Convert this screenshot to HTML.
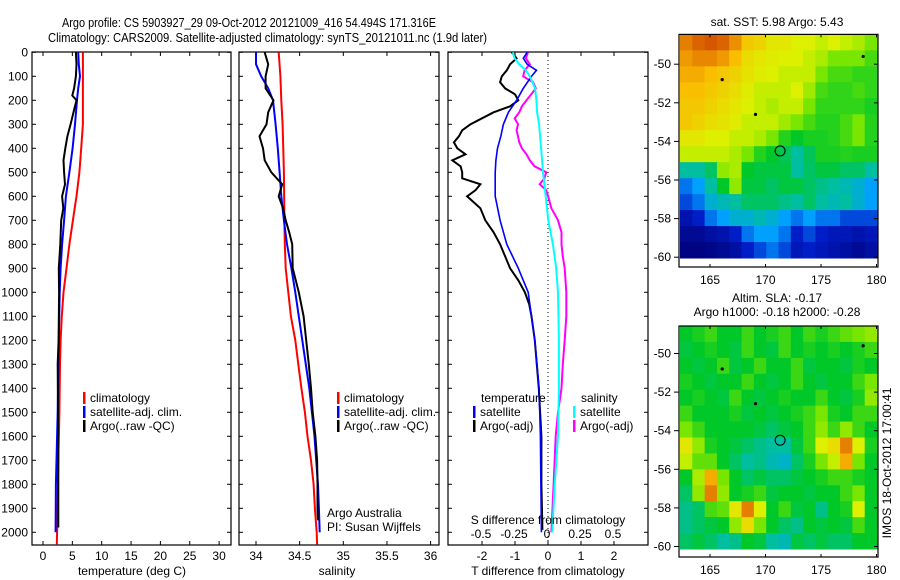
<!DOCTYPE html>
<html><head><meta charset="utf-8">
<style>
html,body{margin:0;padding:0;background:#fff;}
svg{display:block;font-family:"Liberation Sans",sans-serif;}
text{fill:#000;}
</style></head>
<body>
<svg id="chart" width="900" height="580" viewBox="0 0 900 580" xmlns="http://www.w3.org/2000/svg">
<text x="62" y="27" font-size="13" textLength="374" lengthAdjust="spacingAndGlyphs">Argo profile: CS 5903927_29 09-Oct-2012 20121009_416 54.494S 171.316E</text>
<text x="48" y="42" font-size="13" textLength="439" lengthAdjust="spacingAndGlyphs">Climatology: CARS2009. Satellite-adjusted climatology: synTS_20121011.nc (1.9d later)</text>
<g id="layer"></g>
</svg>
<script>
// ---------- data ----------
const depthTicks = [0,100,200,300,400,500,600,700,800,900,1000,1100,1200,1300,1400,1500,1600,1700,1800,1900,2000];
const tempTicks = [0,5,10,15,20,25,30];
const salTicks = [34,34.5,35,35.5,36];
const salTickLabels = ["34","34.5","35","35.5","36"];
const tdiffTicks = [-2,-1,0,1,2];
const sdiffTicks = [-0.5,-0.25,0,0.25,0.5];
const sdiffTickLabels = ["-0.5","-0.25","0","0.25","0.5"];

const tClimDepth = [0,100,200,300,400,500,600,700,800,900,1000,1100,1200,1300,1500,1700,2000,2050];
const tClim =      [6.8,6.8,6.8,6.8,6.5,6.2,5.7,5.1,4.5,4.0,3.5,3.2,3.0,2.9,2.8,2.6,2.4,2.35];
const tSatDepth = [0,50,100,150,200,300,400,500,600,700,800,900,1000,1200,1500,1800,2000];
const tSat =      [6.0,6.1,6.3,6.0,5.8,5.45,5.05,4.5,3.9,3.6,3.25,3.0,2.85,2.7,2.5,2.2,2.15];
const tArgoDepth = [0,50,100,150,180,200,250,300,350,400,450,500,550,600,650,700,800,900,1000,1200,1300,1500,1700,1980];
const tArgo =      [5.6,5.7,5.6,5.3,5.0,5.7,5.2,4.7,4.15,3.8,3.5,3.6,3.75,3.25,3.45,3.1,2.95,2.7,2.75,2.65,2.5,2.55,2.6,2.6];

const sClimDepth = [0,100,200,300,500,700,800,900,1000,1100,1200,1300,1400,1500,1600,1700,1800,1900,2000,2050];
const sClim =      [34.26,34.28,34.29,34.305,34.32,34.325,34.33,34.34,34.37,34.40,34.45,34.485,34.52,34.56,34.59,34.63,34.66,34.675,34.695,34.70];
const sSatDepth = [0,50,100,150,200,250,300,400,500,600,700,800,900,1000,1100,1200,1300,1400,1500,1600,1700,1800,1900,2000];
const sSat =      [34.0,34.0,34.06,34.14,34.195,34.21,34.225,34.25,34.27,34.29,34.32,34.355,34.405,34.45,34.49,34.53,34.57,34.61,34.64,34.67,34.69,34.71,34.72,34.73];
const sArgoDepth = [0,50,100,150,200,250,300,350,400,450,500,550,600,650,700,750,800,900,1000,1100,1200,1300,1400,1500,1600,1700,1800,1900,1950];
const sArgo =      [34.1,34.14,34.11,34.11,34.2,34.14,34.12,34.04,34.08,34.1,34.175,34.3,34.26,34.31,34.34,34.38,34.415,34.42,34.49,34.545,34.575,34.605,34.63,34.65,34.68,34.70,34.705,34.705,34.71];

const dtSatDepth = [0,25,50,75,100,150,200,250,300,350,400,450,500,600,700,800,900,1000,1200,1400,1600,2000];
const dtSat =      [-0.63,-0.75,-0.63,-0.35,-0.5,-0.75,-0.95,-1.2,-1.35,-1.43,-1.53,-1.58,-1.6,-1.6,-1.45,-1.25,-0.9,-0.6,-0.4,-0.27,-0.23,-0.2];
const dtArgoDepth = [0,25,50,75,100,125,150,175,200,225,250,275,300,325,350,375,400,425,450,475,500,525,550,575,600,650,700,750,800,850,900,950,1000,1050,1100,1200,1400,1600,1800,1990];
const dtArgo =      [-1.1,-0.95,-1.15,-1.25,-1.4,-1.45,-1.3,-1.0,-0.9,-1.15,-1.65,-2.0,-2.35,-2.6,-2.7,-2.85,-2.75,-2.5,-2.9,-2.65,-2.6,-2.6,-2.05,-2.2,-2.45,-2.05,-1.9,-1.65,-1.45,-1.3,-1.15,-0.9,-0.7,-0.57,-0.5,-0.4,-0.28,-0.2,-0.2,-0.17];
const dsSatDepth = [0,25,50,75,100,150,200,250,300,400,500,600,700,800,900,1000,1200,1400,1600,1800,2000];
const dsSat =      [-0.26,-0.245,-0.21,-0.16,-0.13,-0.09,-0.08,-0.075,-0.06,-0.045,-0.03,-0.01,0.01,0.045,0.07,0.083,0.09,0.09,0.083,0.058,0.04];
const dsArgoDepth = [0,25,50,75,100,125,150,175,200,225,250,275,300,325,350,375,400,425,450,475,500,525,550,575,600,650,700,750,800,850,900,950,1000,1100,1200,1300,1400,1500,1600,1800,2000];
const dsArgo =      [-0.145,-0.16,-0.13,-0.17,-0.18,-0.105,-0.085,-0.12,-0.155,-0.19,-0.21,-0.245,-0.22,-0.23,-0.22,-0.21,-0.19,-0.155,-0.13,-0.095,-0.005,-0.02,-0.055,-0.005,0.008,0.033,0.083,0.11,0.11,0.12,0.134,0.14,0.146,0.146,0.134,0.12,0.11,0.083,0.066,0.05,0.033];

const lonTicks = [165,170,175,180];
const latTicks = [-50,-52,-54,-56,-58,-60];
const sstGrid = [
[0.85,0.88,0.9,0.88,0.83,0.76,0.74,0.7,0.7,0.68,0.68,0.66,0.68,0.66,0.64,0.6],
[0.82,0.84,0.84,0.82,0.78,0.72,0.7,0.69,0.68,0.68,0.66,0.64,0.6,0.6,0.6,0.56],
[0.8,0.8,0.78,0.76,0.74,0.71,0.69,0.68,0.66,0.66,0.66,0.6,0.56,0.56,0.54,0.54],
[0.78,0.78,0.76,0.74,0.72,0.69,0.66,0.66,0.66,0.68,0.63,0.56,0.54,0.54,0.56,0.54],
[0.76,0.76,0.74,0.72,0.7,0.68,0.66,0.64,0.66,0.66,0.6,0.54,0.54,0.54,0.54,0.52],
[0.76,0.74,0.72,0.71,0.69,0.66,0.66,0.66,0.63,0.6,0.56,0.53,0.53,0.56,0.6,0.53],
[0.7,0.7,0.68,0.68,0.66,0.66,0.64,0.6,0.53,0.5,0.52,0.52,0.53,0.56,0.6,0.53],
[0.66,0.66,0.66,0.66,0.64,0.6,0.53,0.5,0.46,0.4,0.46,0.52,0.52,0.53,0.52,0.52],
[0.4,0.4,0.45,0.62,0.64,0.5,0.48,0.48,0.48,0.4,0.45,0.48,0.48,0.45,0.45,0.4],
[0.25,0.3,0.4,0.5,0.62,0.48,0.48,0.45,0.48,0.48,0.45,0.42,0.4,0.38,0.35,0.3],
[0.2,0.25,0.35,0.38,0.4,0.45,0.45,0.45,0.42,0.4,0.45,0.4,0.38,0.4,0.35,0.3],
[0.1,0.15,0.25,0.3,0.35,0.35,0.38,0.35,0.3,0.25,0.3,0.25,0.25,0.2,0.2,0.2],
[0.05,0.05,0.08,0.1,0.15,0.25,0.3,0.3,0.25,0.15,0.2,0.15,0.12,0.12,0.1,0.12],
[0.02,0.02,0.03,0.05,0.08,0.15,0.2,0.25,0.2,0.12,0.15,0.12,0.1,0.08,0.05,0.08]];
const slaGrid = [
[0.5,0.52,0.55,0.5,0.5,0.55,0.5,0.52,0.55,0.5,0.55,0.52,0.55,0.58,0.6,0.62],
[0.48,0.5,0.52,0.5,0.48,0.55,0.5,0.48,0.55,0.5,0.52,0.5,0.52,0.5,0.52,0.55],
[0.5,0.48,0.5,0.55,0.48,0.5,0.55,0.5,0.5,0.55,0.48,0.5,0.5,0.48,0.52,0.5],
[0.52,0.5,0.48,0.5,0.5,0.55,0.5,0.48,0.5,0.55,0.5,0.48,0.5,0.5,0.55,0.6],
[0.5,0.52,0.5,0.48,0.55,0.5,0.48,0.5,0.52,0.5,0.5,0.55,0.5,0.48,0.52,0.62],
[0.55,0.5,0.5,0.5,0.52,0.48,0.5,0.48,0.5,0.52,0.55,0.6,0.52,0.5,0.55,0.55],
[0.6,0.55,0.5,0.5,0.5,0.5,0.48,0.45,0.48,0.5,0.55,0.62,0.55,0.62,0.55,0.5],
[0.7,0.62,0.52,0.5,0.48,0.45,0.42,0.4,0.4,0.48,0.55,0.68,0.72,0.85,0.68,0.52],
[0.66,0.58,0.58,0.5,0.45,0.4,0.42,0.38,0.36,0.45,0.52,0.6,0.66,0.8,0.6,0.5],
[0.5,0.64,0.8,0.6,0.5,0.45,0.48,0.45,0.45,0.48,0.5,0.52,0.55,0.55,0.52,0.5],
[0.45,0.62,0.85,0.62,0.5,0.52,0.55,0.48,0.5,0.5,0.48,0.5,0.5,0.55,0.6,0.5],
[0.42,0.45,0.56,0.58,0.7,0.85,0.68,0.5,0.55,0.48,0.5,0.42,0.5,0.52,0.68,0.5],
[0.42,0.45,0.48,0.5,0.62,0.72,0.6,0.5,0.45,0.42,0.5,0.48,0.5,0.48,0.56,0.5],
[0.45,0.48,0.45,0.4,0.42,0.5,0.48,0.4,0.38,0.48,0.45,0.48,0.45,0.45,0.5,0.5]];
const floatLon = [166.1,169.1,178.8];
const floatLat = [-50.8,-52.6,-49.6];
const profLon = 171.316, profLat = -54.494;

// ---------- helpers ----------
const NS="http://www.w3.org/2000/svg";
const layer=document.getElementById('layer');
function mk(tag,attrs,parent){const e=document.createElementNS(NS,tag);for(const k in attrs)e.setAttribute(k,attrs[k]);(parent||layer).appendChild(e);return e;}
function txt(x,y,s,size,anchor,parent){const t=mk('text',{x:x,y:y,'font-size':size||12,'text-anchor':anchor||'start'},parent);t.textContent=s;return t;}

const PT=52, PB=545;
const yD = d => 52.3 + 0.24*d;
const xT = v => 43 + 5.87*v;
const xS = v => 256 + 87.3*(v-34);
const xDT = v => 548 + 33*v;
const xDS = v => 547 + 132*v;

function frame(x0,x1,name){
  const g=mk('g',{});
  
  
  mk('rect',{x:x0,y:PT,width:x1-x0,height:PB-PT,fill:'#fff',stroke:'#000','stroke-width':1.2},g);
  depthTicks.forEach(d=>{const y=yD(d);mk('line',{x1:x0,x2:x0+4,y1:y,y2:y,stroke:'#000'},g);mk('line',{x1:x1-4,x2:x1,y1:y,y2:y,stroke:'#000'},g);});
  return g;
}
function xticks(g,vals,fx,labels){
  vals.forEach((v,i)=>{const x=fx(v);mk('line',{x1:x,x2:x,y1:PT,y2:PT+4,stroke:'#000'},g);mk('line',{x1:x,x2:x,y1:PB-4,y2:PB,stroke:'#000'},g);
    const t=txt(x,560,labels[i],12,'middle',g);
    
    });
}
function line(g,depths,vals,fx,color,w,name){
  const pts=depths.map((d,i)=>fx(vals[i]).toFixed(1)+','+yD(d).toFixed(1)).join(' ');
  const p=mk('polyline',{points:pts,fill:'none',stroke:color,'stroke-width':w||2},g);
  
  
}
function legend(g,x,y,color,label){
  const lg=mk('g',{},g);
  
  
  mk('rect',{x:x,y:y-10,width:2.5,height:12,fill:color},lg);
  txt(x+7,y,label,12,'start',lg);
}
function label(x,y,s,anchor,name,parent){const t=txt(x,y,s,12,anchor,parent);return t;}

// Panel 1: temperature
const g1=frame(32,231,'temperature-panel');
xticks(g1,tempTicks,xT,tempTicks.map(String));
depthTicks.forEach(d=>label(28,yD(d)+4,String(d),'end','y-tick-label',g1));
line(g1,tClimDepth,tClim,xT,'#f00',2,'temp-climatology-line');
line(g1,tSatDepth,tSat,xT,'#00f',2,'temp-satellite-line');
line(g1,tArgoDepth,tArgo,xT,'#000',2,'temp-argo-line');
legend(g1,83,402,'#f00','climatology');
legend(g1,83,416,'#00f','satellite-adj. clim.');
legend(g1,83,430,'#000','Argo(..raw -QC)');
label(132,575,'temperature (deg C)','middle','x-axis-title',g1);

// Panel 2: salinity
const g2=frame(239,439,'salinity-panel');
xticks(g2,salTicks,xS,salTickLabels);
line(g2,sClimDepth,sClim,xS,'#f00',2,'sal-climatology-line');
line(g2,sSatDepth,sSat,xS,'#00f',2,'sal-satellite-line');
line(g2,sArgoDepth,sArgo,xS,'#000',2,'sal-argo-line');
legend(g2,337,402,'#f00','climatology');
legend(g2,337,416,'#00f','satellite-adj. clim.');
legend(g2,337,430,'#000','Argo(..raw -QC)');
label(327,517,'Argo Australia','start','credit-text',g2);
label(327,531,'PI: Susan Wijffels','start','pi-text',g2);
label(337,575,'salinity','middle','x-axis-title',g2);

// Panel 3: differences
const g3=frame(448,648,'difference-panel');
xticks(g3,tdiffTicks,xDT,tdiffTicks.map(String));
mk('line',{x1:548,x2:548,y1:PT,y2:PB,stroke:'#000','stroke-dasharray':'1,3'},g3);
line(g3,dsArgoDepth,dsArgo,xDS,'#f0f',2,'sdiff-argo-line');
line(g3,dtArgoDepth,dtArgo,xDT,'#000',2,'tdiff-argo-line');
line(g3,dtSatDepth,dtSat,xDT,'#00f',1.6,'tdiff-satellite-line');
line(g3,dsSatDepth,dsSat,xDS,'#0ff',2,'sdiff-satellite-line');
label(481,402,'temperature','start','legend-title-temperature',g3);
legend(g3,473,416,'#00f','satellite');
legend(g3,473,430,'#000','Argo(-adj)');
label(581,402,'salinity','start','legend-title-salinity',g3);
legend(g3,573,416,'#0ff','satellite');
legend(g3,573,430,'#f0f','Argo(-adj)');
label(548,524,'S difference from climatology','middle','s-axis-title',g3);
sdiffTicks.forEach((v,i)=>label(xDS(v),538,sdiffTickLabels[i],'middle','s-tick-label',g3));
label(548,575,'T difference from climatology','middle','x-axis-title',g3);

// colormap
const cmapStops=[[0,[0,0,120]],[0.15,[0,30,200]],[0.3,[0,160,255]],[0.4,[0,190,160]],[0.5,[0,200,40]],[0.6,[120,230,0]],[0.68,[220,240,0]],[0.78,[250,190,0]],[0.88,[220,100,0]],[1,[180,30,0]]];
function cmap(v){v=Math.max(0,Math.min(1,v));
  for(let i=1;i<cmapStops.length;i++){const [a,ca]=cmapStops[i-1],[b,cb]=cmapStops[i];
    if(v<=b){const f=(v-a)/(b-a);return 'rgb('+ca.map((c,k)=>Math.round(c+(cb[k]-c)*f)).join(',')+')';}}
  return 'rgb(180,30,0)';}

function map(grid,top,latTop,bottomColored,frameBottom,name,titles,labelY){
  const g=mk('g',{});
  
  
  const x0=680,x1=877;
  const lonX = lon => 710 + 11.1*(lon-165);
  const latY = lat => latTop + 19.3*(-50-lat);
  const rows=grid.length, cols=grid[0].length;
  const cw=(x1-x0)/cols, ch=(bottomColored-top)/rows;
  grid.forEach((row,r)=>row.forEach((v,c)=>{
    const cell=mk('rect',{x:(x0+c*cw).toFixed(2),y:(top+r*ch).toFixed(2),width:(cw+0.5).toFixed(2),height:(ch+0.5).toFixed(2),fill:cmap(v)},g);
    
    
  }));
  mk('rect',{x:679,y:top,width:199,height:frameBottom-top,fill:'none',stroke:'#000','stroke-width':1.2},g);
  lonTicks.forEach(l=>{const x=lonX(l);mk('line',{x1:x,x2:x,y1:top,y2:top+3,stroke:'#000'},g);mk('line',{x1:x,x2:x,y1:frameBottom-3,y2:frameBottom,stroke:'#000'},g);
    label(x,labelY,String(l),'middle','lon-tick-label',g);});
  latTicks.forEach(l=>{const y=latY(l);mk('line',{x1:674,x2:679,y1:y,y2:y,stroke:'#000'},g);mk('line',{x1:874,x2:878,y1:y,y2:y,stroke:'#000'},g);
    label(671,y+4,String(l),'end','lat-tick-label',g);});
  floatLon.forEach((lo,i)=>{const d=mk('circle',{cx:lonX(lo),cy:latY(floatLat[i]),r:1.6,fill:'#000'},g);});
  const c=mk('circle',{cx:lonX(profLon),cy:latY(profLat),r:5,fill:'none',stroke:'#000','stroke-width':1},g);
  
  
  titles.forEach(tt=>label(777,tt[1],tt[0],'middle','map-title',g));
}
map(sstGrid,34.4,64.2,258,267,'sst-map',[['sat. SST: 5.98 Argo: 5.43',26]],284);
map(slaGrid,326,353.5,549,557,'sla-map',[['Altim. SLA: -0.17',302],['Argo h1000: -0.18 h2000: -0.28',316]],574);
const im=txt(0,0,'IMOS 18-Oct-2012 17:00:41',12,'middle');
im.setAttribute('transform','translate(891,463) rotate(-90)');


</script>
</body></html>
